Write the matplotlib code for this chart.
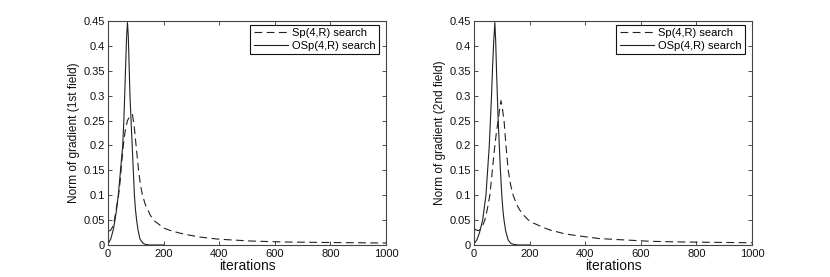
import matplotlib
matplotlib.use("Agg")
import matplotlib.pyplot as plt
from matplotlib.ticker import FuncFormatter

plt.rcParams['font.family'] = ['Liberation Sans', 'DejaVu Sans']

# ---- data ----
# Left panel: 1st field
sp1_iter = [0, 10, 20, 26, 32, 38, 44, 50, 55, 62, 70, 80, 88, 94, 101, 110, 117, 124,
            135, 152, 165, 182, 200, 230, 272, 330, 392, 450, 513, 633, 800, 1000]
sp1_val = [0.027, 0.030, 0.040, 0.060, 0.080, 0.100, 0.130, 0.170, 0.200, 0.230, 0.250,
           0.260, 0.262, 0.240, 0.200, 0.150, 0.120, 0.100, 0.080, 0.060, 0.049, 0.042,
           0.034, 0.028, 0.022, 0.016, 0.012, 0.010, 0.008, 0.006, 0.005, 0.004]

osp1_iter = [0, 10, 20, 25, 30, 37, 45, 53, 57, 60, 64, 67, 70, 73, 76, 79, 83, 87, 91,
             95, 99, 103, 108, 115, 125, 135, 150, 200]
osp1_val = [0.002, 0.012, 0.033, 0.050, 0.068, 0.100, 0.150, 0.200, 0.250, 0.300, 0.370,
            0.420, 0.447, 0.420, 0.360, 0.300, 0.250, 0.200, 0.150, 0.100, 0.070, 0.050,
            0.030, 0.012, 0.004, 0.001, 0.0, 0.0]

# Right panel: 2nd field
sp2_iter = [0, 8, 18, 28, 39, 48, 57, 66, 75, 81, 87, 92, 97, 102, 108, 115, 123, 132,
            141, 153, 165, 180, 196, 214, 250, 274, 330, 394, 450, 514, 636, 756, 1000]
sp2_val = [0.033, 0.030, 0.029, 0.035, 0.050, 0.072, 0.100, 0.150, 0.200, 0.228, 0.250,
           0.272, 0.290, 0.275, 0.250, 0.200, 0.150, 0.120, 0.100, 0.082, 0.070, 0.059,
           0.050, 0.044, 0.035, 0.030, 0.022, 0.017, 0.013, 0.011, 0.0074, 0.006, 0.0045]

osp2_iter = [0, 10, 20, 31, 37, 43, 49, 55, 59, 63, 67, 71, 75, 78, 81, 84, 87, 91, 95,
             100, 104, 108, 114, 123, 133, 145, 160, 200]
osp2_val = [0.002, 0.010, 0.025, 0.050, 0.075, 0.100, 0.150, 0.200, 0.250, 0.300, 0.360,
            0.410, 0.447, 0.410, 0.350, 0.300, 0.250, 0.200, 0.150, 0.100, 0.070, 0.050,
            0.028, 0.010, 0.003, 0.001, 0.0, 0.0]

ylabels = ['Norm of gradient (1st field)', 'Norm of gradient (2nd field)']
xlabel = 'iterations'
legend_labels = ['Sp(4,R) search', 'OSp(4,R) search']
xticks = [0, 200, 400, 600, 800, 1000]
yticks = [0, 0.05, 0.1, 0.15, 0.2, 0.25, 0.3, 0.35, 0.4, 0.45]

fig = plt.figure(figsize=(8.3, 2.77), dpi=100)
positions = [[108/830, 32/277, 278/830, 224/277],
             [474/830, 32/277, 278/830, 224/277]]
panels = [(sp1_iter, sp1_val, osp1_iter, osp1_val),
          (sp2_iter, sp2_val, osp2_iter, osp2_val)]

line_col = '#222222'
for pos, (si, sv, oi, ov), yl in zip(positions, panels, ylabels):
    ax = fig.add_axes(pos)
    l1, = ax.plot(si, sv, color=line_col, lw=0.8, linestyle=(0, (7.0, 4.0)))
    l2, = ax.plot(oi, ov, color=line_col, lw=0.8, linestyle='-')
    ax.set_xlim(0, 1000)
    ax.set_ylim(0, 0.45)
    ax.set_xticks(xticks)
    ax.set_yticks(yticks)
    ax.yaxis.set_major_formatter(FuncFormatter(lambda v, p: f"{v:g}"))
    ax.tick_params(direction='in', length=3, width=0.6, top=True, right=True,
                   labelsize=8, pad=2, colors='#333333', labelcolor='#111111')
    ax.tick_params(axis='x', pad=3)
    for s in ax.spines.values():
        s.set_color('#444444')
        s.set_linewidth(0.8)
    ax.set_xlabel(xlabel, fontsize=10, labelpad=0, color='#111111')
    ax.set_ylabel(yl, fontsize=8.6, labelpad=3, color='#111111')
    leg = ax.legend([l1, l2], legend_labels, loc='upper right', fontsize=8,
                    bbox_to_anchor=(0.975, 0.982), borderaxespad=0,
                    frameon=True, fancybox=False, edgecolor='#111111',
                    handlelength=3.1, handletextpad=0.35, borderpad=0.3,
                    labelspacing=0.2, framealpha=1)
    leg.get_frame().set_linewidth(0.8)

fig.savefig('out.png', dpi=100)
